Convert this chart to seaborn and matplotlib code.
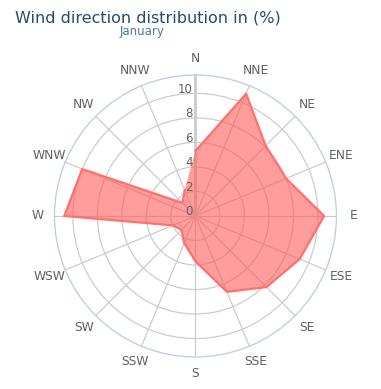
import numpy as np
import matplotlib
matplotlib.use('Agg')
import matplotlib.pyplot as plt
from matplotlib.transforms import offset_copy
import seaborn as sns

# Wind direction data (January), values in %
directions = ['N', 'NNE', 'NE', 'ENE', 'E', 'ESE', 'SE', 'SSE',
              'S', 'SSW', 'SW', 'WSW', 'W', 'WNW', 'NW', 'NNW']
frequency = [5.3, 10.8, 8.1, 8.0, 10.5, 9.2, 8.2, 6.7,
             3.7, 2.4, 1.6, 2.0, 10.7, 10.0, 1.5, 2.3]
radial_ticks = [0, 2, 4, 6, 8, 10]
r_max = 11.5

sns.set_style('white')
plt.rcParams['font.family'] = ['DejaVu Sans']

fig = plt.figure(figsize=(3.81, 3.89), dpi=100)
ax = fig.add_axes([0.143, 0.0823, 0.740, 0.725], projection='polar')
ax.set_theta_zero_location('N')
ax.set_theta_direction(-1)
ax.set_ylim(0, r_max)

theta = np.deg2rad(np.arange(len(directions)) * 22.5)

# grid: rings and spokes
ax.set_xticks(theta)
ax.set_xticklabels([])
ax.set_yticks(radial_ticks[1:])
ax.set_yticklabels([])
ax.grid(True, color='#cccccc', linewidth=0.9)
ax.spines['polar'].set_color('#c0d0e0')
ax.spines['polar'].set_linewidth(1.0)
ax.plot([0, 0], [0, r_max], color='#cccccc', linewidth=2, zorder=1)

# closed polygon
t_closed = np.append(theta, theta[0])
v_closed = np.append(frequency, frequency[0])
ax.fill(t_closed, v_closed, color='#ff5b5b', alpha=0.6, linewidth=0, zorder=2)
sns.lineplot(x=t_closed, y=v_closed, ax=ax, sort=False, color='#ff7070',
             linewidth=1.6, zorder=3)

# radial labels on the N axis
lab_tr = offset_copy(ax.transData, fig=fig, x=-3, y=4, units='dots')
for v in radial_ticks:
    ax.text(0, v, str(v), transform=lab_tr, ha='right', va='center',
            fontsize=8.5, color='#606060')

# direction labels
for t, d in zip(theta, directions):
    ax.text(t, r_max * 158 / 141, d, ha='center', va='center',
            fontsize=8.8, color='#606060', clip_on=False)

fig.text(15 / 381, 1 - 18 / 389, 'Wind direction distribution in (%)',
         ha='left', va='center', fontsize=11.5, color='#274b6d')
fig.text(142 / 381, 1 - 32 / 389, 'January', ha='center', va='center',
         fontsize=8.5, color='#4d759e')

fig.savefig('out.png', dpi=100)
